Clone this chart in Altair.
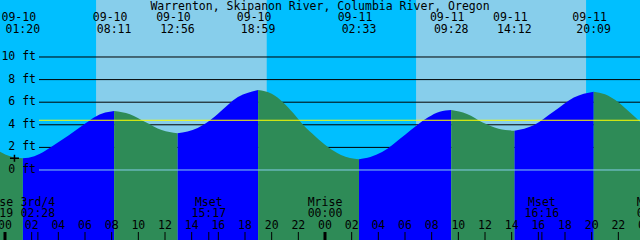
import altair as alt
import pandas as pd

TITLE = "Warrenton, Skipanon River, Columbia River, Oregon"

# tide extremes (labels along the top)
ext_dates = ["09-10", "09-10", "09-10", "09-10", "09-11", "09-11", "09-11", "09-11"]
ext_times = ["01:20", "08:11", "12:56", "18:59", "02:33", "09:28", "14:12", "20:09"]
ext_kinds = ["low", "high", "low", "high", "low", "high", "low", "high"]
ext_feet = [1.03, 5.22, 3.25, 7.08, 0.95, 5.30, 3.48, 6.93]

# tide heights read between the extremes (hours since 09-10 00:00, feet)
mid_hours = [-0.375, 0.5,
             2.2, 3.05, 3.4, 4.76, 6.07, 6.47, 7.3,
             9.37, 10.56, 11.75,
             14.45, 15.38, 15.96, 17.47,
             20.0, 20.88, 21.6, 22.35, 23.3, 24.2, 25.2,
             27.4, 28.28, 30.01, 31.74, 32.6,
             34.65, 35.83, 37.02,
             39.69, 41.18, 42.66,
             45.0, 46.0, 47.0, 47.625]
mid_feet = [1.62, 1.17,
            1.22, 1.72, 2.0, 3.05, 4.15, 4.5, 5.0,
            4.93, 4.22, 3.53,
            3.72, 4.4, 4.95, 6.45,
            6.74, 5.96, 5.06, 4.0, 2.95, 2.06, 1.33,
            1.15, 1.59, 3.12, 4.66, 5.15,
            4.95, 4.2, 3.65,
            3.99, 5.2, 6.42,
            6.7, 6.0, 4.95, 4.27]

# sun (day shading), hours since 09-10 00:00
sunrise_hours = [6.83, 30.83]
sunset_hours = [19.63, 43.58]

# moon events
moon_names = ["Mrise", "3rd/4", "Mset", "Mrise", "Mset", "Mrise"]
moon_days = [-1, 0, 0, 1, 1, 2]
moon_times = ["23:19", "02:28", "15:17", "00:00", "16:16", "00:41"]

level_ticks = [2, 4, 6, 8, 10]
zero_level = [0]
mean_level = [4.4]
hour_ticks = list(range(0, 50, 2))
day_starts = [0, 24, 48]
now_hour = [0.71]
now_feet = [1.04]

X_DOM = [-0.375, 47.625]
Y_DOM = [-6.195, 15.044]
FONT = "DejaVu Sans Mono"
FS = 11.5


def to_h(day, t):
    hh, mm = t.split(":")
    return day * 24 + int(hh) + int(mm) / 60.0


ext_h = [to_h(0 if d == "09-10" else 1, t) for d, t in zip(ext_dates, ext_times)]

pts = sorted(list(zip(mid_hours, mid_feet)) + list(zip(ext_h, ext_feet)))
bounds = [-1e9] + ext_h + [1e9]
rows = []
for s in range(len(bounds) - 1):
    lo, hi = bounds[s], bounds[s + 1]
    if s == 0:
        kind = "fall"
    else:
        kind = "rise" if ext_kinds[s - 1] == "low" else "fall"
    for h, v in pts:
        if lo - 1e-6 <= h <= hi + 1e-6:
            rows.append(dict(h=float(h), v=float(v), seg=f"s{s}", kind=kind))
curve = pd.DataFrame(rows)

xs = alt.Scale(domain=X_DOM, nice=False, zero=False)
ys = alt.Scale(domain=Y_DOM, nice=False, zero=False)


def X(f):
    return alt.X(f, type="quantitative", scale=xs, axis=None)


def Y(f):
    return alt.Y(f, type="quantitative", scale=ys, axis=None)


days = pd.DataFrame(dict(h0=sunrise_hours, h1=sunset_hours))
day_layer = alt.Chart(days).mark_rect(color="#87ceeb").encode(
    x=X("h0"), x2="h1", y=alt.value(0), y2=alt.value(240))

grid = alt.Chart(pd.DataFrame(dict(v=level_ticks))).mark_rule(
    color="black", strokeWidth=1).encode(
    y=Y("v"), x=alt.value(39), x2=alt.value(640))


def tide_area(kind, colour):
    return alt.Chart(curve).transform_filter(
        alt.datum.kind == kind
    ).mark_area(interpolate="monotone", color=colour, opacity=1).encode(
        x=X("h"),
        y=alt.Y("v", type="quantitative", scale=ys, axis=None, stack=None),
        y2=alt.value(240),
        detail=alt.Detail("seg", type="nominal"))


rise_area = tide_area("rise", "#0000ff")
fall_area = tide_area("fall", "#2e8b57")

zero_line = alt.Chart(pd.DataFrame(dict(v=zero_level))).mark_rule(
    color="#87ceeb", strokeWidth=1).encode(
    y=Y("v"), x=alt.value(39), x2=alt.value(640))
mean_line = alt.Chart(pd.DataFrame(dict(v=mean_level))).mark_rule(
    color="#ffff00", strokeWidth=1).encode(
    y=Y("v"), x=alt.value(39), x2=alt.value(640))

lev = pd.DataFrame(dict(v=[0] + level_ticks))
lev["label"] = [f"{v} ft" for v in lev["v"]]
lev_text = alt.Chart(lev).mark_text(
    font=FONT, fontSize=FS, align="right", baseline="middle", color="black").encode(
    y=Y("v"), x=alt.value(36), text="label:N")

now_mark = alt.Chart(pd.DataFrame(dict(h=now_hour, v=now_feet))).mark_point(
    shape="M-1,0H1M0,-0.78V0.78", size=81, filled=False, color="black",
    strokeWidth=1.5, opacity=1).encode(x=X("h"), y=Y("v"))

title_layer = alt.Chart(pd.DataFrame(dict(t=[TITLE]))).mark_text(
    font=FONT, fontSize=FS, align="center", baseline="alphabetic", color="black").encode(
    x=alt.value(320), y=alt.value(10), text="t:N")

ext = pd.DataFrame(dict(h=ext_h, d=ext_dates, t=ext_times))
ext_date = alt.Chart(ext).mark_text(
    font=FONT, fontSize=FS, align="center", baseline="alphabetic", dx=-4, color="black").encode(
    x=X("h"), y=alt.value(21), text="d:N")
ext_time = alt.Chart(ext).mark_text(
    font=FONT, fontSize=FS, align="center", baseline="alphabetic", color="black").encode(
    x=X("h"), y=alt.value(33), text="t:N")

moon = pd.DataFrame(dict(h=[to_h(d, t) for d, t in zip(moon_days, moon_times)],
                         n=moon_names, t=moon_times))
moon_name = alt.Chart(moon).mark_text(
    font=FONT, fontSize=FS, align="center", baseline="alphabetic", color="black").encode(
    x=X("h"), y=alt.value(206), text="n:N")
moon_time = alt.Chart(moon).mark_text(
    font=FONT, fontSize=FS, align="center", baseline="alphabetic", color="black").encode(
    x=X("h"), y=alt.value(217), text="t:N")
moon_ticks = alt.Chart(moon).mark_rule(color="black", strokeWidth=1).encode(
    x=X("h"), y=alt.value(232), y2=alt.value(240))

hrs = pd.DataFrame(dict(h=hour_ticks))
hrs["label"] = [f"{h % 24:02d}" for h in hour_ticks]
hour_text = alt.Chart(hrs).mark_text(
    font=FONT, fontSize=FS, align="center", baseline="alphabetic", color="black").encode(
    x=X("h"), y=alt.value(229), text="label:N")
hour_tick = alt.Chart(hrs).mark_rule(color="black", strokeWidth=1).encode(
    x=X("h"), y=alt.value(232), y2=alt.value(240))
day_tick = alt.Chart(pd.DataFrame(dict(h=day_starts))).mark_rule(
    color="black", strokeWidth=3).encode(
    x=X("h"), y=alt.value(232), y2=alt.value(240))

chart = alt.layer(
    day_layer, grid, rise_area, fall_area, zero_line, mean_line, lev_text, now_mark,
    title_layer, ext_date, ext_time, moon_name, moon_time,
    hour_text, hour_tick, moon_ticks, day_tick
).properties(
    width=640, height=240, padding=0,
    autosize=alt.AutoSizeParams(type="none"),
    background="#00bfff"
).configure_view(stroke=None, fill="#00bfff")

chart.save("out.html", embed_options={"renderer": "svg", "actions": False})
